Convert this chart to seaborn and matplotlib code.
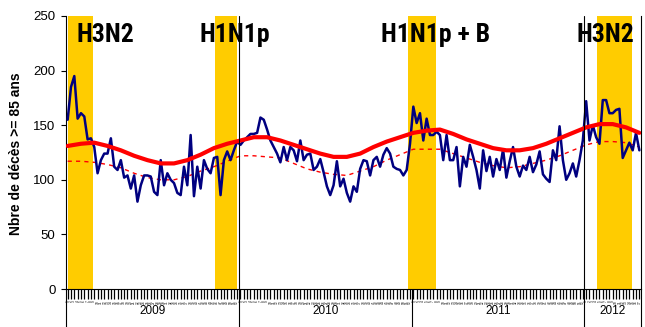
import numpy as np
import pandas as pd
import matplotlib
matplotlib.use("Agg")
import matplotlib.pyplot as plt
import matplotlib.transforms as mtransforms
from matplotlib import font_manager
import seaborn as sns

# ---- data -------------------------------------------------------------
years = ["2009", "2010", "2011", "2012"]
weeks_per_year = [52, 52, 52, 17]

# weekly deaths, age >= 85
deaths = [
    # 2009
    155, 185, 195, 156, 161, 158, 137, 138, 130, 106,
    118, 124, 124, 138, 112, 109, 118, 102, 104, 92,
    104, 80, 95, 104, 104, 103, 89, 86, 118, 95,
    106, 100, 97, 88, 86, 112, 95, 141, 85, 112,
    92, 118, 110, 106, 120, 121, 86, 118, 126, 118,
    127, 135,
    # 2010
    132, 136, 139, 142, 142, 143, 157, 155, 146, 136,
    130, 124, 116, 130, 118, 130, 127, 117, 136, 118,
    123, 124, 109, 112, 119, 107, 94, 86, 95, 117,
    94, 101, 88, 80, 94, 89, 110, 118, 117, 104,
    118, 121, 112, 123, 129, 124, 112, 110, 109, 104,
    109, 133,
    # 2011
    167, 152, 161, 136, 156, 141, 141, 144, 141, 118,
    141, 118, 118, 130, 94, 121, 112, 132, 121, 109,
    92, 127, 108, 121, 103, 119, 109, 128, 102, 117,
    130, 112, 103, 113, 109, 121, 107, 114, 126, 105,
    101, 98, 127, 118, 149, 118, 100, 106, 115, 103,
    118, 136,
    # 2012
    172, 136, 150, 139, 133, 173, 173, 161, 161, 164,
    165, 120, 127, 134, 127, 143, 127,
]

# seasonal baseline and lower reference level, read every 4 weeks
model_step = 4
seasonal_baseline = [
    131, 133, 134, 131, 127, 122, 118, 115, 115, 118,
    123, 129, 133, 136, 139, 139, 136, 132, 128, 124,
    121, 121, 124, 130, 135, 139, 143, 145, 146, 142,
    137, 133, 129, 127, 127, 129, 133, 138, 143, 148,
    151, 151, 148, 143,
]
reference_level = [
    117, 117, 116, 114, 111, 106, 102, 100, 100, 103,
    108, 112, 117, 122, 122, 121, 120, 115, 110, 107,
    105, 104, 108, 112, 118, 123, 128, 128, 128, 124,
    120, 116, 113, 111, 112, 115, 118, 122, 127, 132,
    135, 135, 134, 130,
]

# influenza epidemic periods (week index, start/end)
epidemic_start = [0.1, 44.3, 102.4, 159.4]
epidemic_end = [7.6, 50.8, 110.8, 169.8]
epidemic_names = ["H3N2", "H1N1p", "H1N1p + B", "H3N2"]

y_ticks = [0, 50, 100, 150, 200, 250]
y_label = "Nbre de décès >= 85 ans"

# ---- frames -----------------------------------------------------------
n_weeks = len(deaths)
weekly = pd.DataFrame({"week": np.arange(n_weeks), "deaths": deaths})
model_x = np.arange(0, n_weeks, model_step)
model = pd.DataFrame({"week": model_x,
                      "baseline": seasonal_baseline,
                      "reference": reference_level})
week_labels = [str(w) for n in weeks_per_year for w in range(1, n + 1)]
year_edges = np.concatenate([[0], np.cumsum(weeks_per_year)]) - 0.5

# ---- style ------------------------------------------------------------
sns.set_style("white")
plt.rcParams["font.family"] = ["Liberation Sans", "DejaVu Sans"]
for key in ("text.color", "axes.labelcolor", "xtick.color", "ytick.color"):
    plt.rcParams[key] = "black"


def narrow_bold_font():
    """Pick a condensed bold face if one is installed."""
    preferred = ["Liberation Sans Narrow", "Arial Narrow", "Roboto Condensed",
                 "Noto Sans", "Open Sans Condensed", "Open Sans",
                 "DejaVu Sans"]
    narrow = ("condensed", "semi-condensed", "extra-condensed")
    found = {}
    for f in font_manager.fontManager.ttflist:
        w = f.weight if isinstance(f.weight, int) else \
            font_manager.weight_dict.get(f.weight, 400)
        if w < 600 or f.style != "normal":
            continue
        is_narrow = (f.stretch in narrow or "Narrow" in f.name
                     or "Condensed" in f.name or "Narrow" in f.fname
                     or "Condensed" in f.fname)
        if is_narrow and "Extra" not in f.fname:
            found.setdefault(f.name, f.fname)
    for name in preferred:
        if name in found:
            return font_manager.FontProperties(fname=found[name]), True
    if found:
        return font_manager.FontProperties(fname=next(iter(found.values()))), True
    return font_manager.FontProperties(family="Liberation Sans",
                                       weight="bold"), False


title_font, is_narrow = narrow_bold_font()

W, H = 645, 327
fig = plt.figure(figsize=(W / 100, H / 100), dpi=100)
ax = fig.add_axes([66 / W, 1 - 289 / H, 575 / W, 273 / H])

band_color = "#FFCC00"
for s, e in zip(epidemic_start, epidemic_end):
    ax.axvspan(s, e, color=band_color, lw=0, zorder=0)

sns.lineplot(data=model, x="week", y="reference", ax=ax, color="#FF0000",
             linewidth=1.0, linestyle=(0, (3, 3)), zorder=2)
sns.lineplot(data=weekly, x="week", y="deaths", ax=ax, color="#000080",
             linewidth=1.8, zorder=3)
sns.lineplot(data=model, x="week", y="baseline", ax=ax, color="#FF0000",
             linewidth=3.0, zorder=4)

# year separators inside the plot
for b in (year_edges[1], year_edges[3]):
    ax.axvline(b, color="black", lw=0.8, zorder=5)

ax.set_xlim(-0.5, n_weeks - 0.5)
ax.set_ylim(0, 250)
ax.set_yticks(y_ticks)
ax.set_yticklabels([str(v) for v in y_ticks], fontsize=9.5)
ax.tick_params(axis="y", direction="out", length=3.6, width=0.8,
               color="black", pad=4, left=True)

ax.set_xticks(np.arange(n_weeks))
ax.set_xticklabels(week_labels, rotation=90, fontsize=2.3)
ax.tick_params(axis="x", direction="out", length=7.5, width=0.9,
               color="black", pad=0.5, bottom=True)

ax.set_xlabel("")
ax.set_ylabel("")
for side in ("left", "bottom", "right"):
    ax.spines[side].set_visible(True)
    ax.spines[side].set_color("black")
    ax.spines[side].set_linewidth(0.8)
ax.spines["top"].set_visible(False)

# epidemic names
label_x = [2.7, 39.8, 94.3, 153.1]
label_size = 18.5 if is_narrow else 15.5
for x, name in zip(label_x, epidemic_names):
    t = ax.text(x, 226, name, fontproperties=title_font, ha="left",
                va="baseline", color="black", zorder=6)
    t.set_fontsize(label_size)

# year row under the week axis
trans = mtransforms.blended_transform_factory(ax.transData, ax.transAxes)
for b in year_edges:
    ax.plot([b, b], [0, -0.14], color="black", lw=0.8, transform=trans,
            clip_on=False)
for i, yr in enumerate(years):
    xc = (year_edges[i] + year_edges[i + 1]) / 2
    ax.text(xc, -0.08, yr, fontsize=8.5, ha="center", va="center",
            transform=trans)

fig.text(16 / W, 1 - 154 / H, y_label, rotation=90, fontsize=10,
         fontweight="bold", ha="center", va="center")

fig.savefig("out.png", dpi=100)
